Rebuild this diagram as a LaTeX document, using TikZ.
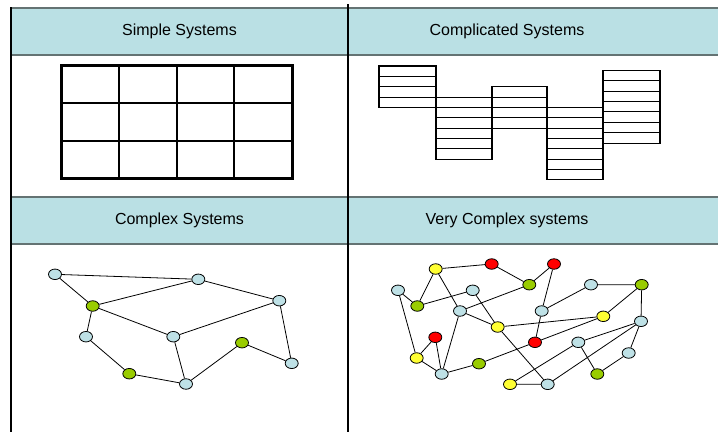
\documentclass[tikz,border=0pt]{standalone}
\usepackage{fontspec}
\setmainfont{Liberation Sans}
\usetikzlibrary{shapes.geometric}
\definecolor{headfill}{RGB}{186,224,228}
\definecolor{headline}{RGB}{100,115,115}
\definecolor{nodeblue}{RGB}{190,225,230}
\definecolor{nodegreen}{RGB}{153,204,0}
\definecolor{nodeyellow}{RGB}{255,255,51}
\definecolor{nodered}{RGB}{255,0,0}
\tikzset{
  vertex/.style={ellipse, draw=black, line width=0.8pt, minimum width=13pt, minimum height=10.5pt, inner sep=0pt},
  bnode/.style={vertex, fill=nodeblue},
  gnode/.style={vertex, fill=nodegreen},
  ynode/.style={vertex, fill=nodeyellow},
  rnode/.style={vertex, fill=nodered},
  link/.style={line width=0.8pt, black},
  title/.style={font=\fontsize{16}{19}\selectfont}
}
\begin{document}
\begin{tikzpicture}[x=1pt, y=-1pt]
            \useasboundingbox (0,0) rectangle (718,432);
            \fill[white] (0,0) rectangle (718,432);
            % table
            \fill[headfill] (11,8) rectangle (718,55);
            \fill[headfill] (11,197) rectangle (718,244);
            \draw[headline, line width=1.6pt] (11,8) -- (718,8);
            \draw[headline, line width=1.6pt] (11,55) -- (718,55);
            \draw[headline, line width=1.6pt] (11,197) -- (718,197);
            \draw[headline, line width=1.6pt] (11,244) -- (718,244);
            \draw[black, line width=1.5pt] (11,7) -- (11,432);
            \draw[black, line width=2pt] (348,4) -- (348,432);
            \node[title] (simple) at (179.5,31.5) {Simple Systems};
            \node[title] (complicated) at (507,31.5) {Complicated Systems};
            \node[title] (complex) at (179.5,220.5) {Complex Systems};
            \node[title] (verycomplex) at (507,220.5) {Very Complex systems};
            % simple grid
            \draw[line width=1.8pt] (119,65) -- (119,178) (177,65) -- (177,178) (234,65) -- (234,178);
            \draw[line width=1.8pt] (61,103) -- (292,103) (61,141) -- (292,141);
            \draw[line width=3pt] (61,65) rectangle (292,178);
            % complicated columns
            \draw[line width=1.1pt] (379,66) rectangle (436,107.4) (379,76.35) -- (436,76.35) (379,86.7) -- (436,86.7) (379,97.05) -- (436,97.05);
            \draw[line width=1.1pt] (436,97.05) rectangle (492,159.15) (436,107.4) -- (492,107.4) (436,117.75) -- (492,117.75) (436,128.1) -- (492,128.1) (436,138.45) -- (492,138.45) (436,148.8) -- (492,148.8);
            \draw[line width=1.1pt] (492,86.7) rectangle (547,128.1) (492,97.05) -- (547,97.05) (492,107.4) -- (547,107.4) (492,117.75) -- (547,117.75);
            \draw[line width=1.1pt] (547,107.4) rectangle (603,179.85) (547,117.75) -- (603,117.75) (547,128.1) -- (603,128.1) (547,138.45) -- (603,138.45) (547,148.8) -- (603,148.8) (547,159.15) -- (603,159.15) (547,169.5) -- (603,169.5);
            \draw[line width=1.1pt] (603,70.3) rectangle (660,143.1) (603,80.7) -- (660,80.7) (603,91.1) -- (660,91.1) (603,101.5) -- (660,101.5) (603,111.9) -- (660,111.9) (603,122.3) -- (660,122.3) (603,132.7) -- (660,132.7);
            % complex systems
            \node[bnode] (c1) at (55,274.3) {};
            \node[bnode] (c2) at (198.3,279.3) {};
            \node[gnode] (c3) at (92.7,306) {};
            \node[bnode] (c4) at (279.3,300.7) {};
            \node[bnode] (c5) at (86,336.7) {};
            \node[bnode] (c6) at (173.3,336.7) {};
            \node[gnode] (c7) at (242,342.7) {};
            \node[bnode] (c8) at (291.7,363.3) {};
            \node[gnode] (c9) at (129.3,373.7) {};
            \node[bnode] (c10) at (186,384) {};
            \draw[link] (c1) -- (c2) -- (c4) -- (c8) -- (c7) -- (c10) -- (c9) -- (c5) -- (c3) -- (c1);
            \draw[link] (c3) -- (c2);
            \draw[link] (c3) -- (c6) -- (c4);
            \draw[link] (c6) -- (c10);
            % very complex systems
            \node[ynode] (v1) at (435.7,269) {};
            \node[rnode] (v2) at (491.7,264) {};
            \node[rnode] (v3) at (554,264) {};
            \node[gnode] (v4) at (529.3,284.7) {};
            \node[bnode] (v5) at (398,290.3) {};
            \node[gnode] (v6) at (417.3,306) {};
            \node[bnode] (v7) at (472.7,290.3) {};
            \node[bnode] (v8) at (460,311) {};
            \node[ynode] (v9) at (497.7,327) {};
            \node[bnode] (v10) at (541.7,311) {};
            \node[bnode] (v11) at (591,284.7) {};
            \node[gnode] (v12) at (641.7,284.7) {};
            \node[ynode] (v13) at (603.3,316.3) {};
            \node[bnode] (v14) at (641,321.3) {};
            \node[rnode] (v15) at (435.3,337.3) {};
            \node[rnode] (v16) at (535,342.3) {};
            \node[bnode] (v17) at (578.3,342.3) {};
            \node[ynode] (v18) at (416.7,358) {};
            \node[bnode] (v19) at (441.7,374) {};
            \node[gnode] (v20) at (479,363.7) {};
            \node[bnode] (v21) at (628.7,353) {};
            \node[gnode] (v22) at (597.3,374) {};
            \node[ynode] (v23) at (510,384.3) {};
            \node[bnode] (v24) at (547.7,384.3) {};
            \draw[link] (v6) -- (v1) -- (v2) -- (v4) -- (v3) -- (v10) -- (v11) -- (v12) -- (v14) -- (v21) -- (v22) -- (v17) -- (v14) -- (v24) -- (v23) -- (v17);
            \draw[link] (v1) -- (v8) -- (v4);
            \draw[link] (v5) -- (v6) -- (v7) -- (v9) -- (v8) -- (v19) -- (v20) -- (v16) -- (v13) -- (v12);
            \draw[link] (v5) -- (v18) -- (v15) -- (v19) -- (v18);
            \draw[link] (v10) -- (v16);
            \draw[link] (v9) -- (v13);
            \draw[link] (v9) -- (v24);
\end{tikzpicture}
\end{document}
